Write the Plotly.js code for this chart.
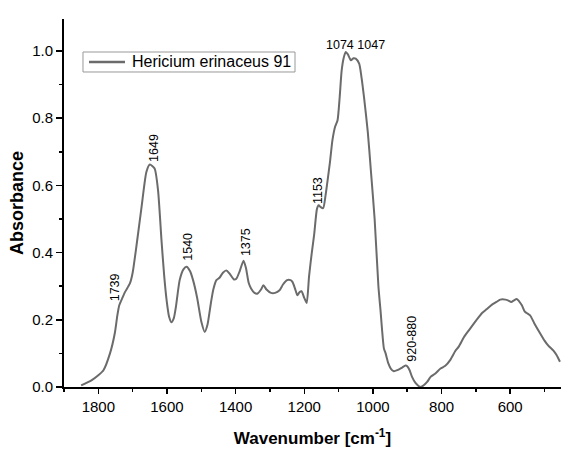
<!DOCTYPE html>
<html>
<head>
<meta charset="utf-8">
<script src="https://cdn.plot.ly/plotly-3.0.1.min.js"></script>
<style>html,body{margin:0;padding:0;background:#fff;}#chart{width:561px;height:449px;}</style>
</head>
<body>
<div id="chart"></div>
<script>
const seriesName = "Hericium erinaceus 91";
const wavenumber = [1850,1820,1800,1785,1766,1752,1745,1739,1730,1722,1708,1700,1688,1674,1660,1650,1636,1626,1616,1608,1601,1594,1587,1580,1574,1563,1552,1543,1533,1524,1512,1500,1490,1482,1472,1465,1456,1447,1437,1427,1418,1405,1398,1388,1377,1370,1362,1355,1345,1336,1326,1319,1310,1297,1285,1272,1262,1250,1240,1234,1226,1220,1214,1208,1200,1193,1186,1178,1171,1163,1158,1152,1145,1138,1132,1125,1118,1110,1103,1097,1091,1085,1079,1073,1064,1057,1050,1040,1033,1026,1015,1006,995,984,978,968,963,955,948,939,929,915,905,900,893,886,876,867,861,852,842,832,818,803,789,775,760,750,735,721,705,690,682,668,653,640,629,614,605,597,589,581,574,566,558,552,542,530,513,500,489,474,465,455];
const absorbance = [0.005,0.02,0.035,0.05,0.10,0.16,0.21,0.243,0.265,0.283,0.308,0.34,0.427,0.536,0.64,0.662,0.65,0.585,0.437,0.33,0.258,0.21,0.193,0.205,0.238,0.318,0.35,0.358,0.345,0.318,0.265,0.195,0.164,0.185,0.25,0.29,0.318,0.325,0.34,0.347,0.338,0.32,0.322,0.345,0.376,0.355,0.31,0.293,0.28,0.278,0.29,0.303,0.29,0.28,0.28,0.288,0.305,0.318,0.318,0.312,0.29,0.273,0.282,0.285,0.265,0.25,0.33,0.40,0.455,0.53,0.541,0.535,0.532,0.57,0.615,0.67,0.734,0.775,0.794,0.86,0.942,0.98,0.997,0.99,0.972,0.978,0.977,0.962,0.92,0.863,0.76,0.645,0.5,0.3,0.23,0.115,0.1,0.07,0.055,0.047,0.05,0.058,0.064,0.062,0.05,0.03,0.012,0.003,0.0,0.005,0.015,0.03,0.04,0.055,0.063,0.08,0.107,0.12,0.148,0.168,0.19,0.21,0.22,0.232,0.245,0.253,0.26,0.26,0.257,0.253,0.258,0.262,0.255,0.243,0.225,0.22,0.213,0.19,0.16,0.138,0.123,0.108,0.095,0.075];
const peakLabels = ["1739","1649","1540","1375","1153","920-880","1074 1047"];
const peakX = [1753,1640,1539,1369,1158,886,1050];
const peakY = [0.298,0.712,0.417,0.432,0.585,0.144,1.019];
const peakAngle = [-90,-90,-90,-90,-90,-90,0];
const xTickVals = [1800,1600,1400,1200,1000,800,600];
const yTickVals = [0,0.2,0.4,0.6,0.8,1.0];
const yTickText = ['0.0','0.2','0.4','0.6','0.8','1.0'];

const lineColor = '#6b6b6b';
const trace = {
  x: wavenumber, y: absorbance, type: 'scatter', mode: 'lines', name: seriesName,
  line: {color: lineColor, width: 2, shape: 'spline', smoothing: 0.6},
  showlegend: false
};

const fontFam = 'Liberation Sans, Arial, sans-serif';
const annotations = peakLabels.map((t, i) => ({
  x: peakX[i], y: peakY[i], xref: 'x', yref: 'y', text: t, showarrow: false,
  textangle: peakAngle[i], font: {family: fontFam, size: 12.5, color: '#000'},
  xanchor: 'center', yanchor: 'middle'
}));
// legend text (legend drawn as box + sample line + label)
annotations.push({
  xref: 'paper', yref: 'paper', x: 0.1328, y: 0.8832, xanchor: 'left', yanchor: 'middle',
  text: seriesName, showarrow: false, font: {family: fontFam, size: 16, color: '#000'}
});

const shapes = [
  {type: 'rect', xref: 'paper', yref: 'paper', x0: 0.0382, x1: 0.4648, y0: 0.856, y1: 0.9103,
   line: {color: '#999', width: 1}, fillcolor: '#fff', layer: 'below'},
  {type: 'line', xref: 'paper', yref: 'paper', x0: 0.0503, x1: 0.1227, y0: 0.8832, y1: 0.8832,
   line: {color: lineColor, width: 2.5}}
];

const layout = {
  width: 561, height: 449,
  margin: {l: 64, r: 0, t: 19, b: 62},
  paper_bgcolor: '#fff', plot_bgcolor: '#fff',
  font: {family: fontFam, color: '#000'},
  showlegend: false,
  xaxis: {
    range: [1900, 452], autorange: false,
    tickvals: xTickVals, ticktext: xTickVals.map(String),
    ticks: 'outside', ticklen: 5, tickwidth: 1.5, tickcolor: '#000',
    minor: {dtick: 100, tick0: 0, ticks: 'outside', ticklen: 3, tickwidth: 1.5, tickcolor: '#000', showgrid: false},
    showline: true, linecolor: '#000', linewidth: 2, showgrid: false, zeroline: false,
    tickfont: {size: 15},
    title: {text: '<b>Wavenumber [cm<sup>-1</sup>]</b>', font: {size: 17}, standoff: 18}
  },
  yaxis: {
    range: [0, 1.095], autorange: false,
    tickvals: yTickVals, ticktext: yTickText,
    ticks: 'outside', ticklen: 6, tickwidth: 1.5, tickcolor: '#000',
    minor: {dtick: 0.1, tick0: 0, ticks: 'outside', ticklen: 3.5, tickwidth: 1.5, tickcolor: '#000', showgrid: false},
    showline: true, linecolor: '#000', linewidth: 2, showgrid: false, zeroline: false,
    tickfont: {size: 15},
    title: {text: '<b>Absorbance</b>', font: {size: 18}, standoff: 4}
  },
  shapes: shapes,
  annotations: annotations
};

Plotly.newPlot('chart', [trace], layout, {displayModeBar: false, staticPlot: true});
</script>
</body>
</html>
